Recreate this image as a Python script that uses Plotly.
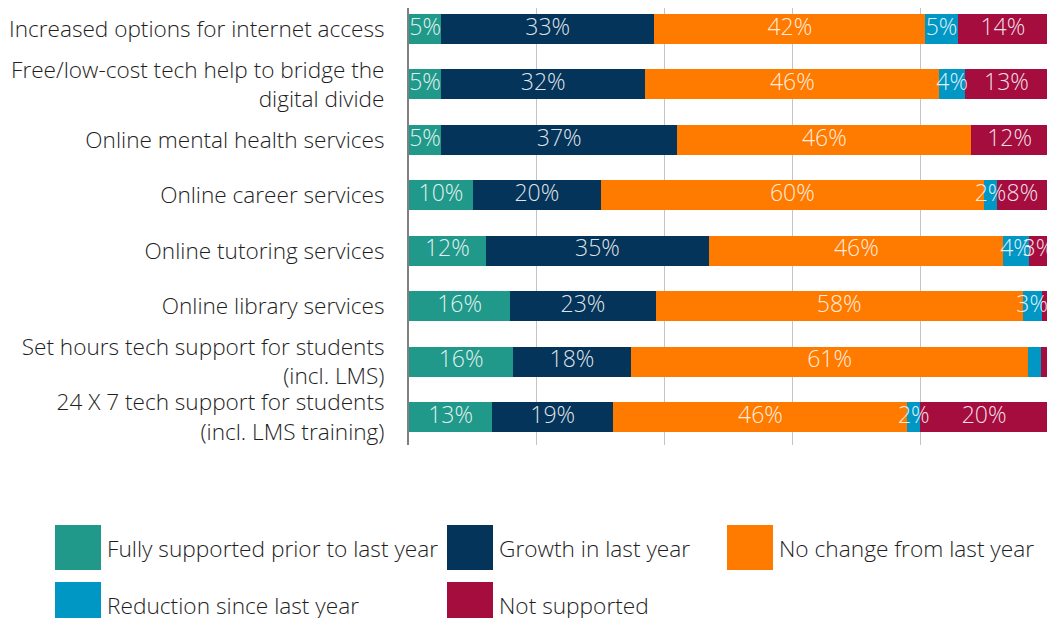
import plotly.graph_objects as go

categories = [
    "Increased options for internet access",
    "Free/low-cost tech help to bridge the<br>digital divide",
    "Online mental health services",
    "Online career services",
    "Online tutoring services",
    "Online library services",
    "Set hours tech support for students<br>(incl. LMS)",
    "24 X 7 tech support for students<br>(incl. LMS training)",
]

fully_supported = [5, 5, 5, 10, 12, 16, 16, 13]
growth = [33, 32, 37, 20, 35, 23, 18, 19]
no_change = [42, 46, 46, 60, 46, 58, 61, 46]
reduction = [5, 4, 0, 2, 4, 3, 2, 2]
not_supported = [14, 13, 12, 8, 3, 1, 1, 20]

# segments with no printed label in the original
unlabeled = {("Reduction since last year", 6), ("Not supported", 5), ("Not supported", 6)}

series = [
    ("Fully supported prior to last year", fully_supported, "#21998A"),
    ("Growth in last year", growth, "#04345A"),
    ("No change from last year", no_change, "#FF7B00"),
    ("Reduction since last year", reduction, "#0097C4"),
    ("Not supported", not_supported, "#A50D3F"),
]

FONT = "Open Sans"
OFF = 8  # page body margin
W, H = 1055 - OFF, 618 - OFF
L, R, T, B = 409 - OFF, 7, 0, 173
pw, ph = W - L - R, H - T - B

# bars are scaled so each row fills 100%
totals = [sum(s[1][i] for s in series) for i in range(len(categories))]

fig = go.Figure()
start = [0.0] * len(categories)
lab_x, lab_y, lab_t = [], [], []
for name, vals, col in series:
    norm = [v / t * 100 for v, t in zip(vals, totals)]
    fig.add_trace(go.Bar(
        y=categories, x=norm, name=name, orientation="h",
        marker=dict(color=col, line=dict(width=0)),
        showlegend=False, hoverinfo="skip",
    ))
    for i, v in enumerate(vals):
        if v > 0 and (name, i) not in unlabeled:
            lab_x.append(start[i] + norm[i] / 2)
            lab_y.append(categories[i])
            lab_t.append(f"{v}%")
    start = [s + n for s, n in zip(start, norm)]

# value labels drawn above all segments
fig.add_trace(go.Scatter(
    x=lab_x, y=lab_y, text=lab_t, mode="text", cliponaxis=False,
    textposition="middle center", showlegend=False, hoverinfo="skip",
    textfont=dict(color="rgba(255,255,255,0.88)", size=23, family=FONT, weight=300),
))


def px_x(p):
    return (p - OFF - L) / pw


def px_y(p):
    return (H - B - (p - OFF)) / ph


# hand-drawn legend with large square swatches
legend_pos = [(55, 525), (447, 525), (727, 525), (55, 582), (447, 582)]
shapes = []
annotations = []
for (name, vals, col), (sx, sy) in zip(series, legend_pos):
    shapes.append(dict(type="rect", xref="paper", yref="paper",
                       x0=px_x(sx), x1=px_x(sx + 46), y0=px_y(sy + 45), y1=px_y(sy),
                       fillcolor=col, line=dict(width=0)))
    annotations.append(dict(xref="paper", yref="paper", x=px_x(sx + 50), y=px_y(sy + 23),
                            text=name, showarrow=False, xanchor="left", yanchor="middle",
                            font=dict(size=22.7, color="#1E1E1E", family=FONT, weight=300)))

fig.update_layout(
    barmode="stack", bargap=0.46,
    width=W, height=H,
    margin=dict(l=L, r=R, t=T, b=B),
    plot_bgcolor="white", paper_bgcolor="white",
    font=dict(family=FONT, color="#1E1E1E"),
    xaxis=dict(range=[0, 100], dtick=20, showgrid=True, gridcolor="#C4C4C4", gridwidth=1,
               showticklabels=False, zeroline=False, showline=False, fixedrange=True),
    yaxis=dict(range=[7.505, -0.379], showline=True, linecolor="#7F7F7F", linewidth=2,
               ticks="", tickfont=dict(size=22.6, color="#1E1E1E", family=FONT, weight=300),
               ticklabelstandoff=18, showgrid=False),
    shapes=shapes, annotations=annotations,
)

fig.write_html("out.html")
